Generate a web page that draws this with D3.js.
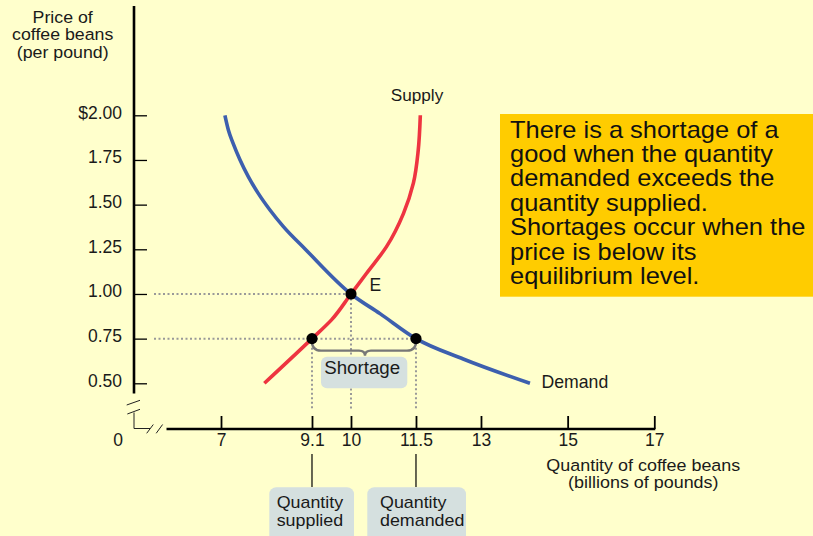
<!DOCTYPE html>
<html>
<head>
<meta charset="utf-8">
<script src="https://cdn.jsdelivr.net/npm/d3@7"></script>
<style>
  html, body { margin: 0; padding: 0; background: #ffffcc; }
  svg { display: block; font-family: "Liberation Sans", Arial, sans-serif; }
</style>
</head>
<body>
<svg id="chart" width="813" height="536"></svg>
<script>
// ---- data ----
const priceTicks = [0.5, 0.75, 1.0, 1.25, 1.5, 1.75, 2.0];
const priceTickLabels = ["0.50", "0.75", "1.00", "1.25", "1.50", "1.75", "$2.00"];
const quantityTicks = [7, 9.1, 10, 11.5, 13, 15, 17];
const quantityTickLabels = ["7", "9.1", "10", "11.5", "13", "15", "17"];

const supplyQuantity = [8.0, 9.1, 9.55, 10.0, 10.36, 10.82, 11.21, 11.44, 11.55, 11.6];
const supplyPrice    = [0.5, 0.75, 0.855, 1.0, 1.116, 1.265, 1.45, 1.62, 1.8, 2.0];
const demandQuantity = [7.09, 7.17, 7.28, 7.44, 7.63, 7.86, 8.13, 8.44, 8.94, 10.0, 10.67, 11.5, 12.59, 14.13];
const demandPrice    = [2.0, 1.918, 1.843, 1.75, 1.657, 1.563, 1.47, 1.377, 1.252, 1.0, 0.89, 0.75, 0.636, 0.5];

const equilibrium = { q: 10, p: 1.0 };
const shortagePrice = 0.75;
const quantitySupplied = 9.1;
const quantityDemanded = 11.5;

const yTitleLines = ["Price of", "coffee beans", "(per pound)"];
const xTitleLines = ["Quantity of coffee beans", "(billions of pounds)"];
const noteLines = [
  "There is a shortage of a",
  "good when the quantity",
  "demanded exceeds the",
  "quantity supplied.",
  "Shortages occur when the",
  "price is below its",
  "equilibrium level."
];

// ---- drawing ----
const svg = d3.select("#chart");
svg.append("rect").attr("width", 813).attr("height", 536).attr("fill", "#ffffcc");

const x = d3.scaleLinear().domain([7, 17]).range([221, 654.3]);
const y = d3.scaleLinear().domain([0.5, 2.0]).range([383.3, 115.3]);

const axisY0 = 134;   // y axis position
const axisX0 = 429;   // x axis position
const fs = 17.5;
const ink = "#1a1a1a";

function label(g, tx, ty, lines, size, anchor, sx, lh) {
  const arr = Array.isArray(lines) ? lines : [lines];
  const t = g.append("text")
    .attr("transform", `translate(${tx},${ty}) scale(${sx || 1},1)`)
    .attr("text-anchor", anchor || "start")
    .attr("font-size", size).attr("fill", ink);
  arr.forEach((s, i) => t.append("tspan").attr("x", 0).attr("y", i * (lh || 0)).text(s));
  return t;
}

// dotted guides
const dotted = svg.append("g")
  .attr("stroke", "#999").attr("stroke-width", 2).attr("stroke-dasharray", "2,2.5").attr("fill", "none");
dotted.append("line").attr("x1", 154).attr("x2", x(equilibrium.q))
  .attr("y1", y(equilibrium.p)).attr("y2", y(equilibrium.p));
dotted.append("line").attr("x1", 154).attr("x2", x(quantityDemanded))
  .attr("y1", y(shortagePrice)).attr("y2", y(shortagePrice));
dotted.append("line").attr("x1", x(equilibrium.q)).attr("x2", x(equilibrium.q))
  .attr("y1", y(equilibrium.p)).attr("y2", 409);
dotted.append("line").attr("x1", x(quantitySupplied)).attr("x2", x(quantitySupplied))
  .attr("y1", y(shortagePrice)).attr("y2", 409);
dotted.append("line").attr("x1", x(quantityDemanded)).attr("x2", x(quantityDemanded))
  .attr("y1", y(shortagePrice)).attr("y2", 409);

// Y axis
const yAxis = d3.axisLeft(y)
  .tickValues(priceTicks)
  .tickFormat((d, i) => priceTickLabels[i])
  .tickSizeInner(-13).tickSizeOuter(0).tickPadding(12);
const gy = svg.append("g").attr("transform", `translate(${axisY0},0)`).call(yAxis);
gy.select(".domain").remove();
gy.selectAll(".tick line").attr("stroke", "#000").attr("stroke-width", 1.3);
gy.selectAll(".tick text").attr("font-size", fs).attr("fill", ink)
  .attr("font-family", "Liberation Sans, Arial, sans-serif").attr("dy", "0.16em");
svg.append("line").attr("x1", axisY0).attr("x2", axisY0).attr("y1", 6).attr("y2", 393.5)
  .attr("stroke", "#000").attr("stroke-width", 2.6);

// X axis
const xAxis = d3.axisBottom(x)
  .tickValues(quantityTicks)
  .tickFormat((d, i) => quantityTickLabels[i])
  .tickSizeInner(-13).tickSizeOuter(0).tickPadding(4.6);
const gx = svg.append("g").attr("transform", `translate(0,${axisX0})`).call(xAxis);
gx.select(".domain").remove();
gx.selectAll(".tick line").attr("stroke", "#000").attr("stroke-width", 1.8);
gx.selectAll(".tick text").attr("font-size", fs).attr("fill", ink)
  .attr("font-family", "Liberation Sans, Arial, sans-serif");
svg.append("line").attr("x1", 166.5).attr("x2", x(17) + 1).attr("y1", axisX0).attr("y2", axisX0)
  .attr("stroke", "#000").attr("stroke-width", 2.6);

// axis break
const brk = svg.append("g").attr("stroke", "#222").attr("stroke-width", 1).attr("fill", "none");
brk.append("line").attr("x1", 126.7).attr("y1", 405).attr("x2", 140).attr("y2", 400.3);
brk.append("line").attr("x1", 127.3).attr("y1", 414).attr("x2", 140).attr("y2", 409.3);
brk.append("path").attr("d", `M${axisY0},412.5 L${axisY0},428.5 L150,428.5`);
brk.append("line").attr("x1", 146.7).attr("y1", 433.3).attr("x2", 153.3).attr("y2", 424.5);
brk.append("line").attr("x1", 156.2).attr("y1", 433.3).attr("x2", 162.6).attr("y2", 424.5);
label(svg, 118, 446, "0", fs, "middle");

// curves
const supply = supplyQuantity.map((q, i) => [q, supplyPrice[i]]).reverse();
const demand = demandQuantity.map((q, i) => [q, demandPrice[i]]);
const supplyLine = d3.line().x(d => x(d[0])).y(d => y(d[1])).curve(d3.curveMonotoneY);
const demandLine = d3.line().x(d => x(d[0])).y(d => y(d[1])).curve(d3.curveMonotoneX);
svg.append("path").datum(demand).attr("d", demandLine).attr("fill", "none")
  .attr("stroke", "#3d5fae").attr("stroke-width", 3.6);
svg.append("path").datum(supply).attr("d", supplyLine).attr("fill", "none")
  .attr("stroke", "#ee3440").attr("stroke-width", 3.6);

// brace
const bx1 = x(quantitySupplied), bx2 = x(quantityDemanded), by = y(shortagePrice);
const bm = (bx1 + bx2) / 2 + 1;
svg.append("path")
  .attr("d", `M${bx1},${by + 2} Q${bx1},${by + 12} ${bx1 + 9},${by + 12} L${bm - 6},${by + 12} Q${bm},${by + 12} ${bm},${by + 17} Q${bm},${by + 12} ${bm + 6},${by + 12} L${bx2 - 9},${by + 12} Q${bx2},${by + 12} ${bx2},${by + 2}`)
  .attr("fill", "none").attr("stroke", "#777").attr("stroke-width", 2.4);

// points
const pts = [[equilibrium.q, equilibrium.p], [quantitySupplied, shortagePrice], [quantityDemanded, shortagePrice]];
svg.selectAll("circle.pt").data(pts).enter().append("circle").attr("class", "pt")
  .attr("cx", d => x(d[0])).attr("cy", d => y(d[1])).attr("r", 5.6).attr("fill", "#000");

// Shortage box
svg.append("rect").attr("x", 321).attr("y", 356.7).attr("width", 86.3).attr("height", 31.6)
  .attr("rx", 6).attr("fill", "#d5e0df");
label(svg, 362.2, 374, "Shortage", 17.5, "middle", 1.07);

// labels
label(svg, 390.7, 101, "Supply", 17.2, "start");
label(svg, 541.5, 387.5, "Demand", 17.5, "start", 1.01);
label(svg, 369.5, 290.7, "E", 17.5, "start");

// axis titles
label(svg, 62.7, 23, yTitleLines, 16.3, "middle", 1.09, 17.3);
label(svg, 643.3, 470.5, xTitleLines, 16.3, "middle", 1.1, 17.3);

// quantity callouts
const callouts = [
  { q: quantitySupplied, bx: 269.3, bw: 84.7, tx: 276.7, lines: ["Quantity", "supplied"] },
  { q: quantityDemanded, bx: 367.3, bw: 98.7, tx: 380, lines: ["Quantity", "demanded"] }
];
callouts.forEach(c => {
  svg.append("line").attr("x1", x(c.q)).attr("x2", x(c.q)).attr("y1", 454).attr("y2", 487)
    .attr("stroke", "#000").attr("stroke-width", 1.2);
  svg.append("rect").attr("x", c.bx).attr("y", 487.3).attr("width", c.bw).attr("height", 60)
    .attr("rx", 7).attr("fill", "#d5e0df");
  label(svg, c.tx, 508, c.lines, 17, "start", 1.05, 18);
});

// note box
svg.append("rect").attr("x", 500).attr("y", 114).attr("width", 320).attr("height", 182.7).attr("fill", "#ffcc00");
label(svg, 510, 137.7, noteLines, 24, "start", 1.06, 24.4).attr("fill", "#111");
</script>
</body>
</html>
